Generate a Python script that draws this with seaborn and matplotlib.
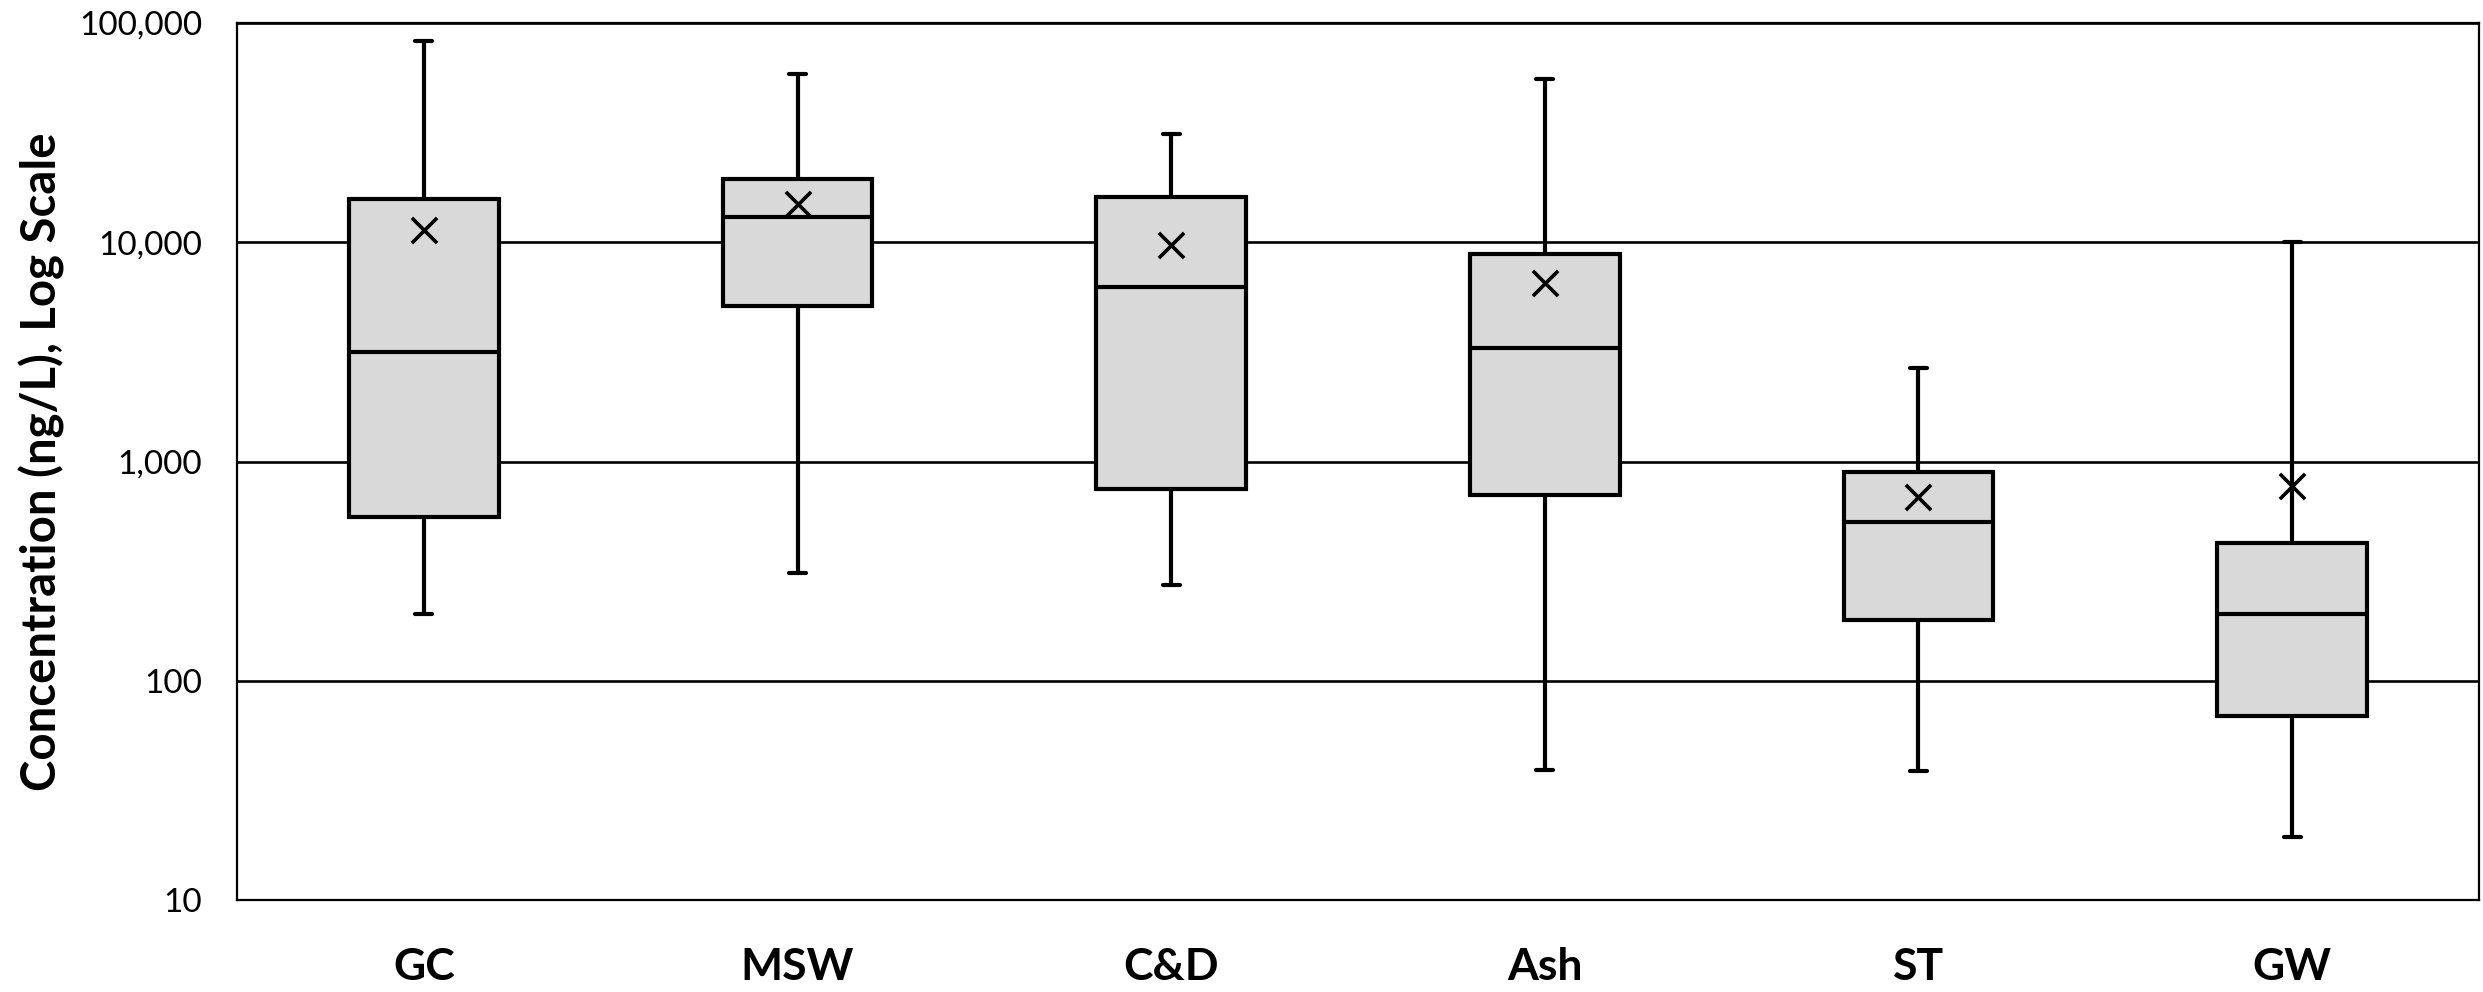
import matplotlib.pyplot as plt
import matplotlib.ticker as mticker
import seaborn as sns
import pandas as pd

# five-number summaries (ng/L)
categories = ["GC", "MSW", "C&D", "Ash", "ST", "GW"]
mins = [201, 311, 272, 39, 38.7, 19.4]
q1s = [557, 5100, 753, 703, 189, 69]
medians = [3150, 13000, 6270, 3300, 530, 201]
q3s = [15800, 19500, 16000, 8830, 895, 425]
maxs = [83000, 58600, 31100, 55700, 2680, 10000]
means = [11400, 14900, 9700, 6520, 690, 775]

rows = []
for i, cat in enumerate(categories):
    for v in (mins[i], q1s[i], medians[i], q3s[i], maxs[i]):
        rows.append({"group": cat, "conc": v})
df = pd.DataFrame(rows)

sns.set_style("white")
plt.rcParams["font.family"] = ["Lato", "DejaVu Sans"]

fig, ax = plt.subplots(figsize=(24.83, 9.92), dpi=100)
fig.subplots_adjust(left=237 / 2483, right=2479 / 2483,
                    top=1 - 23 / 992, bottom=1 - 900 / 992)

sns.boxplot(data=df, x="group", y="conc", order=categories,
            whis=(0, 100), width=0.4, log_scale=True,
            color="#d9d9d9", saturation=1, linecolor="black",
            linewidth=3.0, showfliers=False, capwidths=0.045, ax=ax)

# means as x markers
sns.scatterplot(x=list(range(len(categories))), y=means, marker="x",
                s=330, color="black", linewidth=2.6, zorder=5, ax=ax)

ax.set_ylim(10, 100000)
ax.set_xlim(-0.5, len(categories) - 0.5)
ax.set_yticks([10, 100, 1000, 10000, 100000])
ax.yaxis.set_major_formatter(mticker.StrMethodFormatter("{x:,.0f}"))
ax.yaxis.set_minor_locator(mticker.NullLocator())

ax.set_axisbelow(True)
ax.yaxis.grid(True, color="black", linewidth=1.9)
ax.xaxis.grid(False)
for s in ax.spines.values():
    s.set_visible(True)
    s.set_color("black")
    s.set_linewidth(1.6)

ax.tick_params(axis="y", length=0, pad=25, labelsize=24, labelcolor="black")
ax.tick_params(axis="x", length=0, pad=34, labelsize=32, labelcolor="black")
for lbl in ax.get_xticklabels():
    lbl.set_fontweight("bold")

ax.set_xlabel("")
ax.set_ylabel("Concentration (ng/L), Log Scale", fontsize=34,
              fontweight="bold", color="black", labelpad=10)

plt.savefig("out.png", dpi=100)
